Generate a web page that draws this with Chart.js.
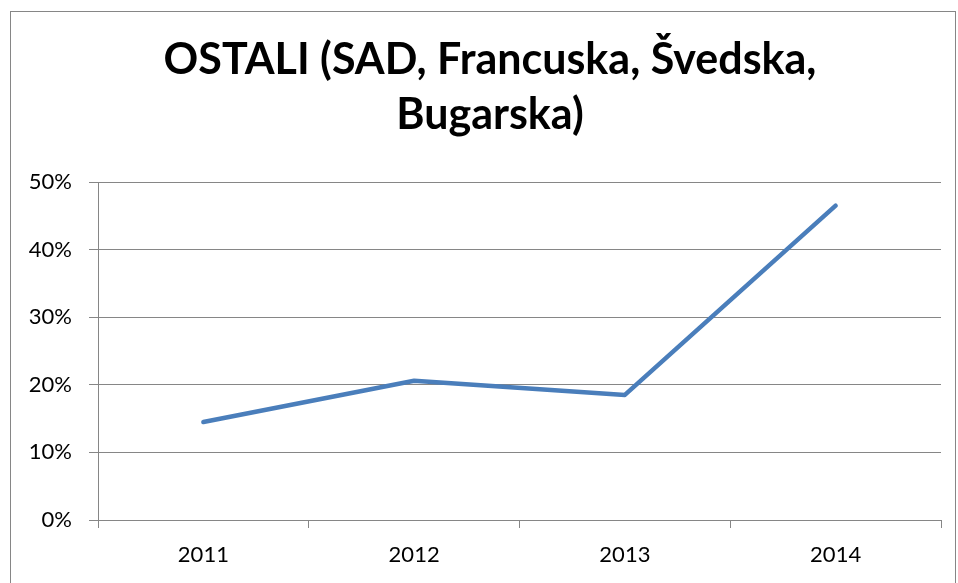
<!DOCTYPE html>
<html>
<head>
<meta charset="utf-8">
<script src="https://cdn.jsdelivr.net/npm/chart.js@4"></script>
<style>
  html, body { margin: 0; padding: 0; background: #fff; }
  #frame {
    position: absolute; left: 10px; top: 11px; width: 946px; height: 600px;
    border: 1px solid #868686; box-sizing: border-box;
  }
  #chart { position: absolute; left: 0; top: 0; }
</style>
</head>
<body>
<div id="frame"></div>
<canvas id="chart" width="958" height="583"></canvas>
<script>
const titleLines = ['OSTALI (SAD, Francuska, Švedska,', 'Bugarska)']
const years = ['2011', '2012', '2013', '2014']
const shares = [0.145, 0.206, 0.185, 0.465]
const yTicks = [0, 0.1, 0.2, 0.3, 0.4, 0.5]

const gray = '#868686'
const font = 'Lato'

// nudge the title a little right, like the original
const titleShift = {
  id: 'titleShift',
  afterLayout(chart) {
    const t = chart.titleBlock
    if (t) { t.left += 7; t.right += 7 }
  }
}

const data = {
  labels: years,
  datasets: [{
    data: shares,
    borderColor: '#4a7ebb',
    borderWidth: 4.5,
    borderCapStyle: 'round',
    borderJoinStyle: 'round',
    pointRadius: 0,
    tension: 0,
    fill: false
  }]
}

const options = {
  responsive: false,
  animation: false,
  layout: {
    padding: {left: 25, right: 17, top: 0, bottom: 0}
  },
  plugins: {
    legend: {display: false},
    tooltip: {enabled: false},
    title: {
      display: true,
      text: titleLines,
      color: '#000',
      font: {family: font, size: 43, weight: 'bold', lineHeight: 55 / 43},
      padding: {top: 33, bottom: 39}
    }
  },
  scales: {
    x: {
      offset: true,
      grid: {
        offset: true,
        drawOnChartArea: false,
        color: gray,
        tickLength: 8
      },
      border: {color: gray},
      ticks: {
        color: '#000',
        padding: 14,
        maxRotation: 0,
        font: {family: font, size: 22}
      },
      afterFit: scale => { scale.height = 63 }
    },
    y: {
      min: 0,
      max: 0.5,
      afterBuildTicks: scale => { scale.ticks = yTicks.map(v => ({value: v})) },
      grid: {color: gray, tickLength: 9},
      border: {color: gray},
      ticks: {
        color: '#000',
        padding: 17,
        font: {family: font, size: 22},
        callback: val => Math.round(val * 100) + '%'
      },
      afterFit: scale => { scale.width = 73 }
    }
  }
}

new Chart(document.getElementById('chart'), {
  type: 'line',
  data: data,
  options: options,
  plugins: [titleShift]
})
</script>
</body>
</html>
